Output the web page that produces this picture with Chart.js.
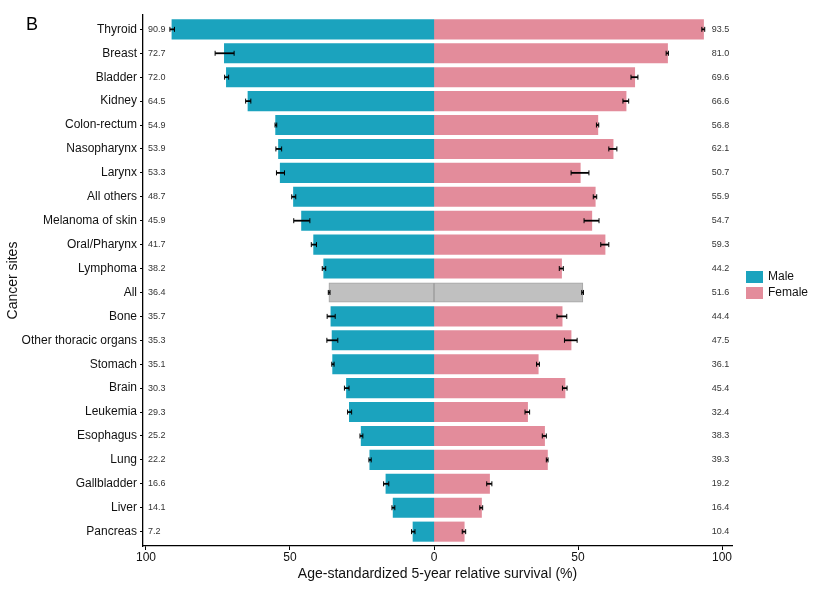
<!DOCTYPE html>
<html>
<head>
<meta charset="utf-8">
<script src="https://cdn.jsdelivr.net/npm/chart.js@4/dist/chart.umd.min.js"></script>
<style>
  body { margin: 0; background: #fff; font-family: "Liberation Sans", Arial, sans-serif; }
  #wrap { position: relative; width: 835px; height: 597px; }
  #panel { position: absolute; left: 26px; top: 14px; font-size: 18px; color: #000; }
  .legend { position: absolute; left: 746px; font-size: 12px; color: #111; }
  .legend span.sw { position: absolute; left: 0; top: 0; width: 17px; height: 12px; }
  .legend span.tx { position: absolute; left: 22px; top: -2px; white-space: nowrap; }
</style>
</head>
<body>
<div id="wrap">
  <canvas id="survChart"></canvas>
  <div id="panel">B</div>
  <div class="legend" style="top:271px"><span class="sw" style="background:#1BA3BE"></span><span class="tx">Male</span></div>
  <div class="legend" style="top:287px"><span class="sw" style="background:#E38C9B"></span><span class="tx">Female</span></div>
</div>
<script>
// Data
const sites = ['Thyroid', 'Breast', 'Bladder', 'Kidney', 'Colon-rectum', 'Nasopharynx', 'Larynx',
  'All others', 'Melanoma of skin', 'Oral/Pharynx', 'Lymphoma', 'All', 'Bone', 'Other thoracic organs',
  'Stomach', 'Brain', 'Leukemia', 'Esophagus', 'Lung', 'Gallbladder', 'Liver', 'Pancreas'];
const maleSurv = [90.9, 72.7, 72.0, 64.5, 54.9, 53.9, 53.3, 48.7, 45.9, 41.7, 38.2, 36.4, 35.7, 35.3,
  35.1, 30.3, 29.3, 25.2, 22.2, 16.6, 14.1, 7.2];
const femaleSurv = [93.5, 81.0, 69.6, 66.6, 56.8, 62.1, 50.7, 55.9, 54.7, 59.3, 44.2, 51.6, 44.4, 47.5,
  36.1, 45.4, 32.4, 38.3, 39.3, 19.2, 16.4, 10.4];
// half-width of the 95% CI
const maleErr = [0.8, 3.3, 0.7, 0.9, 0.3, 1.0, 1.4, 0.7, 2.8, 0.9, 0.6, 0.3, 1.4, 1.9, 0.4, 0.8, 0.7,
  0.5, 0.4, 0.9, 0.5, 0.6];
const femaleErr = [0.5, 0.4, 1.2, 1.0, 0.4, 1.4, 3.1, 0.6, 2.6, 1.4, 0.7, 0.3, 1.7, 2.2, 0.5, 0.8, 0.8,
  0.7, 0.3, 0.9, 0.5, 0.6];
const xTicks = [-100, -50, 0, 50, 100];

const MALE = '#1BA3BE';
const FEMALE = '#E38C9B';
const GREY = '#C0C0C0';

const isAll = s => s === 'All';

// error bars + value labels, drawn through the chart scales
const decorPlugin = {
  id: 'decor',
  afterDatasetsDraw(chart) {
    const { ctx, scales: { x, y } } = chart;
    ctx.save();
    ctx.strokeStyle = '#000';
    const bar = (lo, hi, py) => {
      const a = x.getPixelForValue(lo), b = x.getPixelForValue(hi);
      ctx.lineWidth = 1.8;
      ctx.beginPath(); ctx.moveTo(a, py); ctx.lineTo(b, py); ctx.stroke();
      ctx.lineWidth = 1;
      ctx.beginPath();
      ctx.moveTo(a, py - 2.5); ctx.lineTo(a, py + 2.5);
      ctx.moveTo(b, py - 2.5); ctx.lineTo(b, py + 2.5);
      ctx.stroke();
    };
    sites.forEach((s, i) => {
      const py = y.getPixelForValue(i);
      bar(-(maleSurv[i] + maleErr[i]), -(maleSurv[i] - maleErr[i]), py);
      bar(femaleSurv[i] - femaleErr[i], femaleSurv[i] + femaleErr[i], py);
    });
    ctx.fillStyle = '#333';
    ctx.font = '9px "Liberation Sans", Arial, sans-serif';
    ctx.textBaseline = 'middle';
    ctx.textAlign = 'left';
    sites.forEach((s, i) => {
      const py = y.getPixelForValue(i);
      ctx.fillText(maleSurv[i].toFixed(1), x.getPixelForValue(-99.3), py);
      ctx.fillText(femaleSurv[i].toFixed(1), x.getPixelForValue(96.4), py);
    });
    ctx.restore();
  }
};

function buildChart() {
  const ctx = document.getElementById('survChart').getContext('2d');
  const font = { family: '"Liberation Sans", Arial, sans-serif' };

  new Chart(ctx, {
    type: 'bar',
    data: {
      datasets: [{
        label: 'Male',
        data: maleSurv.map((v, i) => ({ x: -v, y: i })),
        backgroundColor: sites.map(s => isAll(s) ? GREY : MALE),
        borderColor: '#A4A4A4',
        borderWidth: sites.map(s => isAll(s) ? 1 : 0),
        borderSkipped: false,
        inflateAmount: 0.6,
        grouped: false,
        barPercentage: 0.79,
        categoryPercentage: 1
      }, {
        label: 'Female',
        data: femaleSurv.map((v, i) => ({ x: v, y: i })),
        backgroundColor: sites.map(s => isAll(s) ? GREY : FEMALE),
        borderColor: '#A4A4A4',
        borderWidth: sites.map(s => isAll(s) ? 1 : 0),
        borderSkipped: false,
        inflateAmount: 0.6,
        grouped: false,
        barPercentage: 0.79,
        categoryPercentage: 1
      }]
    },
    options: {
      indexAxis: 'y',
      responsive: true,
      maintainAspectRatio: false,
      animation: false,
      layout: { padding: { left: 0, right: 103, top: 15, bottom: 0 } },
      plugins: {
        legend: { display: false },
        tooltip: { enabled: false }
      },
      scales: {
        x: {
          type: 'linear',
          min: -101.04,
          max: 103.47,
          afterBuildTicks: axis => { axis.ticks = xTicks.map(v => ({ value: v })); },
          afterFit: axis => { axis.height = 51; },
          grid: { display: true, drawOnChartArea: false, drawTicks: true, tickLength: 4, color: '#000' },
          border: { display: true, color: '#000', width: 1.3 },
          ticks: {
            color: '#111',
            padding: 0,
            maxRotation: 0,
            font: { ...font, size: 12 },
            callback: v => Math.abs(v)
          },
          title: {
            display: true,
            text: 'Age-standardized 5-year relative survival (%)',
            color: '#111',
            font: { ...font, size: 14 },
            padding: { top: 0, bottom: 14 }
          }
        },
        y: {
          type: 'linear',
          reverse: true,
          offset: false,
          min: -0.6,
          max: sites.length - 1 + 0.6,
          afterBuildTicks: axis => { axis.ticks = sites.map((s, i) => ({ value: i })); },
          afterFit: axis => { axis.width = 143; },
          grid: { display: true, offset: false, drawOnChartArea: false, drawTicks: true, tickLength: 3, color: '#000' },
          border: { display: true, color: '#000', width: 1.3 },
          ticks: {
            color: '#111',
            padding: 3,
            autoSkip: false,
            font: { ...font, size: 12 },
            callback: v => sites[v]
          },
          title: {
            display: true,
            text: 'Cancer sites',
            color: '#111',
            font: { ...font, size: 14 },
            padding: { top: 5, bottom: 0 }
          }
        }
      }
    },
    plugins: [decorPlugin]
  });
}

document.addEventListener('DOMContentLoaded', buildChart);
</script>
</body>
</html>
